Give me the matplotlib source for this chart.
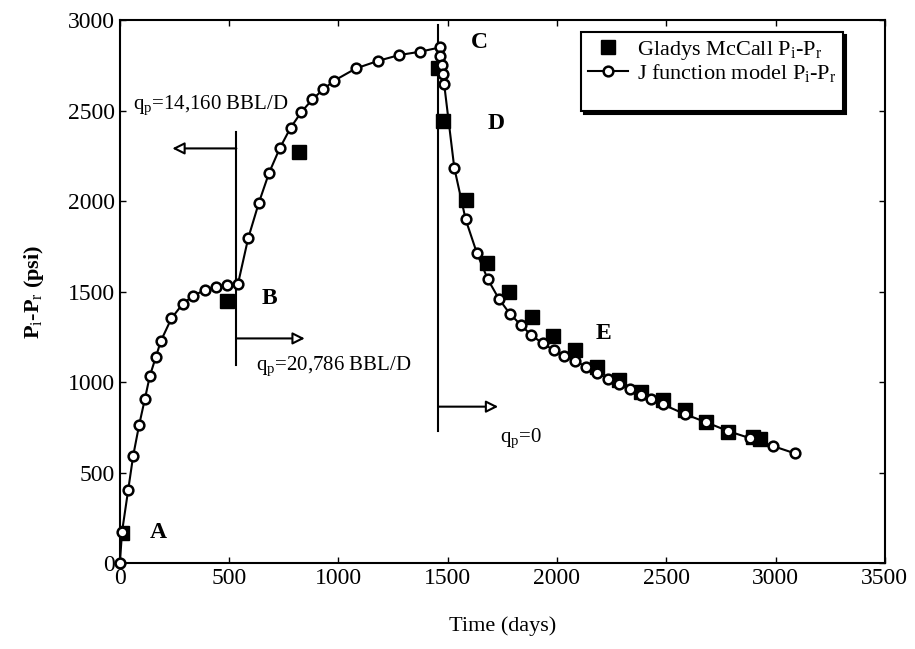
import matplotlib
matplotlib.use('Agg')
import matplotlib.pyplot as plt

# Serif styling like the scanned paper figure
plt.rcParams['font.family'] = ['Liberation Serif', 'DejaVu Serif']
plt.rcParams['font.size'] = 15
plt.rcParams['mathtext.fontset'] = 'custom'
plt.rcParams['mathtext.rm'] = 'Liberation Serif'
plt.rcParams['mathtext.it'] = 'Liberation Serif:italic'
plt.rcParams['mathtext.bf'] = 'Liberation Serif:bold'

# J function model P_i - P_r (open circles joined by a line)
t_model = [0, 10, 38, 61, 88, 114, 137, 165, 188, 236, 287, 335, 389, 439, 488, 540,
           587, 636, 683, 732, 781, 831, 881, 930, 980, 1080, 1182, 1278, 1372, 1464,
           1467, 1475, 1479, 1484, 1530, 1582, 1634, 1684, 1734, 1784, 1835, 1882,
           1934, 1985, 2033, 2082, 2132, 2184, 2234, 2283, 2333, 2384, 2432, 2483,
           2585, 2684, 2783, 2885, 2989, 3088]
p_model = [0, 173, 403, 593, 762, 904, 1033, 1140, 1228, 1352, 1431, 1477, 1508, 1527, 1536, 1540,
           1794, 1991, 2157, 2293, 2405, 2493, 2562, 2617, 2665, 2733, 2775, 2807, 2825, 2849,
           2803, 2751, 2700, 2645, 2185, 1899, 1711, 1567, 1460, 1378, 1315, 1260,
           1214, 1177, 1144, 1118, 1085, 1051, 1017, 987, 960, 928, 904, 877,
           823, 777, 729, 689, 646, 606]

# Gladys McCall field data (filled squares)
t_field = [10, 490, 820, 1455, 1479, 1582, 1682, 1780, 1885, 1983, 2082, 2181, 2284,
           2384, 2483, 2585, 2684, 2783, 2897, 2930]
p_field = [165, 1450, 2272, 2733, 2440, 2006, 1656, 1495, 1361, 1255, 1177, 1085, 1011,
           946, 901, 845, 781, 725, 698, 685]

fig = plt.figure(figsize=(9.15, 6.49), dpi=100)
ax = fig.add_axes([0.131, 0.1325, 0.836, 0.8365])
fig.patch.set_facecolor('white')

# Field data squares
ax.plot(t_field, p_field, linestyle='none', marker='s', markersize=10,
        color='black', label=r'Gladys McCall P$_{\rm i}$-P$_{\rm r}$', zorder=3)

# Model curve
ax.plot(t_model, p_model, color='black', linewidth=1.5, marker='o', markersize=7,
        markerfacecolor='white', markeredgecolor='black', markeredgewidth=1.8,
        label=r'J function model P$_{\rm i}$-P$_{\rm r}$', zorder=4, clip_on=False)

ax.set_xlim(0, 3500)
ax.set_ylim(0, 3000)
ax.set_xticks([0, 500, 1000, 1500, 2000, 2500, 3000, 3500])
ax.set_yticks([0, 500, 1000, 1500, 2000, 2500, 3000])
ax.tick_params(direction='in', top=True, right=True, length=4, width=1, labelsize=17)
for spine in ax.spines.values():
    spine.set_linewidth(1.5)

ax.set_xlabel('Time (days)', fontsize=16, labelpad=20)
ax.set_ylabel(r'P$_{\rm i}$-P$_{\rm r}$ (psi)', fontsize=16, fontweight='bold', labelpad=16)

# Point labels
label_kw = dict(fontsize=17, fontweight='bold', ha='left', va='center')
ax.text(137, 166, 'A', **label_kw)
ax.text(650, 1464, 'B', **label_kw)
ax.text(1605, 2878, 'C', **label_kw)
ax.text(1684, 2431, 'D', **label_kw)
ax.text(2178, 1271, 'E', **label_kw)

# Rate change markers
arrow_kw = dict(arrowstyle='-|>', color='black', lw=1.5, mutation_scale=18,
                shrinkA=0, shrinkB=0, fc='white')
ax.plot([533, 533], [1094, 2381], color='black', linewidth=1.5)
ax.annotate('', xy=(240, 2291), xytext=(533, 2291), arrowprops=arrow_kw)
ax.annotate('', xy=(846, 1241), xytext=(533, 1241), arrowprops=arrow_kw)
ax.text(60, 2530, r'q$_{\rm p}$=14,160 BBL/D', fontsize=15, ha='left', va='center')
ax.text(625, 1085, r'q$_{\rm p}$=20,786 BBL/D', fontsize=15, ha='left', va='center')

ax.plot([1456, 1456], [731, 2973], color='black', linewidth=1.5)
ax.annotate('', xy=(1731, 864), xytext=(1456, 864), arrowprops=arrow_kw)
ax.text(1740, 690, r'q$_{\rm p}$=0', fontsize=15, ha='left', va='center')

# Legend with drop shadow (blank row gives the empty space at the bottom)
handles, labels = ax.get_legend_handles_labels()
handles.append(plt.Line2D([], [], linestyle='none'))
labels.append(' ')
legend = ax.legend(handles, labels, loc='upper right', bbox_to_anchor=(0.945, 0.978),
                   fontsize=16, frameon=True, fancybox=False,
                   shadow={'color': 'black', 'alpha': 1}, handlelength=1.8,
                   borderpad=0.3, labelspacing=0.0, handletextpad=0.4, borderaxespad=0)
legend.get_frame().set_edgecolor('black')
legend.get_frame().set_linewidth(1.5)
legend.get_frame().set_alpha(1)

plt.savefig('out.png', dpi=100, facecolor='white')
plt.close()
